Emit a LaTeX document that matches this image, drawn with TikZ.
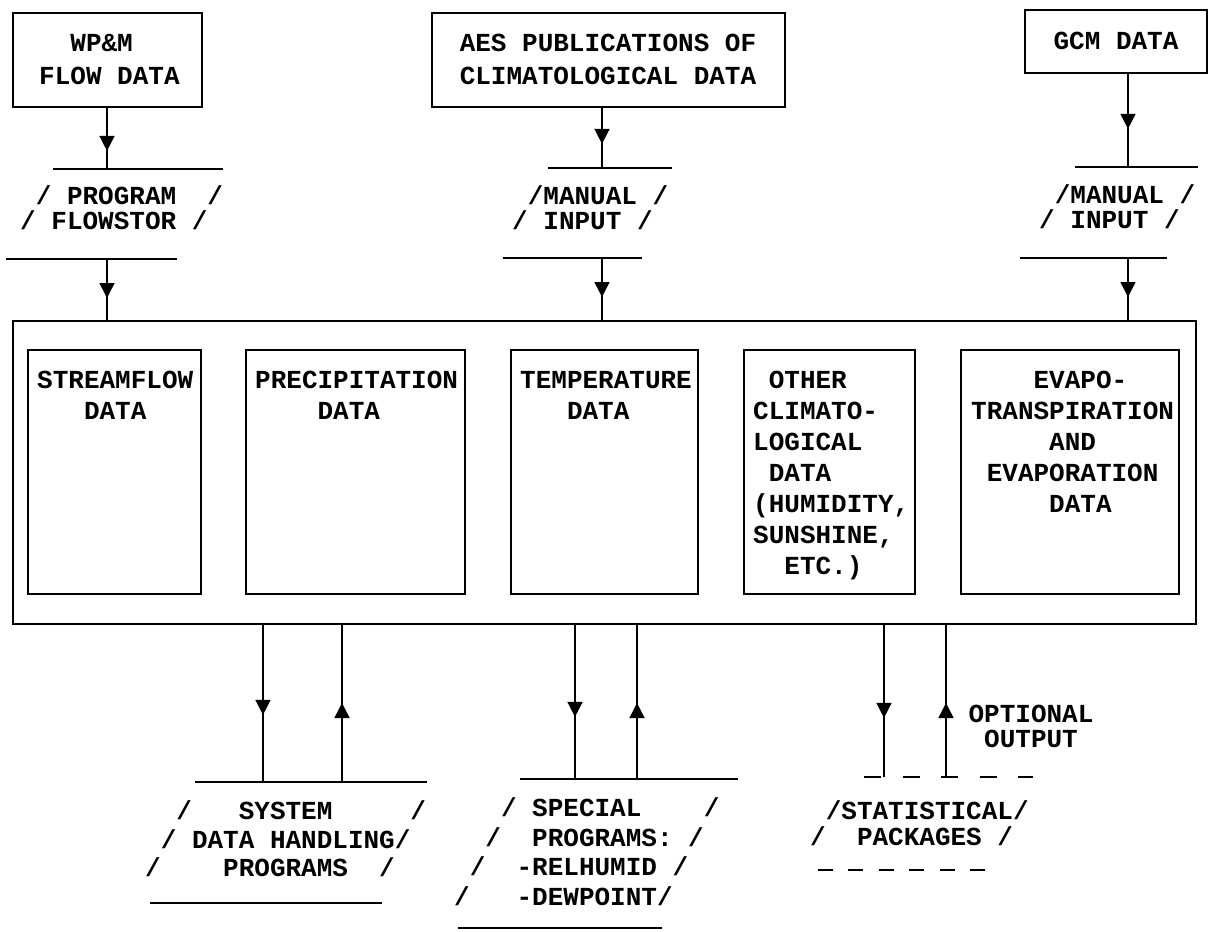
\documentclass[tikz,border=0pt]{standalone}
\usepackage{fontspec}
\newfontfamily\mono{Liberation Mono}
\usetikzlibrary{arrows.meta,decorations.markings}
\newcommand\sk[1]{\hspace*{#1\fontcharwd\font`M}}
\newcommand\rowsL[1]{\vtop{\lineskiplimit=-\maxdimen\lineskip=0pt\halign{##\hfil\cr#1\crcr}}}
\newcommand\rowsC[1]{\vtop{\lineskiplimit=-\maxdimen\lineskip=0pt\halign{\hfil##\hfil\cr#1\crcr}}}
\tikzset{
  box/.style={draw, line width=1.8pt, inner sep=0pt},
  conn/.style={line width=1.5pt},
  lbl/.style={inner sep=0pt, anchor=base west, font=\mono\bfseries\fontsize{26}{#1}\selectfont},
  lbl/.default=31,
  clbl/.style={inner sep=0pt, anchor=base, font=\mono\bfseries\fontsize{26}{#1}\selectfont},
  clbl/.default=31,
  midarrow/.style={decoration={markings, mark=at position #1 with {\arrow{Triangle[width=15pt,length=15pt]}}}, postaction={decorate}},
  dashA/.style={line width=1.5pt, dash pattern=on 17pt off 21.5pt},
  dashB/.style={line width=1.5pt, dash pattern=on 15pt off 15.4pt}
}
\begin{document}
\begin{tikzpicture}[x=1pt,y=-1pt]
\useasboundingbox (0,0) rectangle (1216,932);

% x positions of vertical connectors
\coordinate (xl) at (107,0);
\coordinate (xm) at (602,0);
\coordinate (xr) at (1128,0);
\coordinate (s1d) at (263,0);
\coordinate (s1u) at (342,0);
\coordinate (s2d) at (575,0);
\coordinate (s2u) at (637,0);
\coordinate (s3d) at (884,0);
\coordinate (s3u) at (946,0);

% ---------- top sources ----------
\node[box, minimum width=189, minimum height=94] (wpm) at (107.5,60) {};
\node[lbl=33] (wpmt) at (39,51.5) {\rowsL{\sk{2}WP\&M\cr FLOW DATA}};

\node[box, minimum width=353, minimum height=94] (aes) at (608.5,60) {};
\node[clbl=33] (aest) at (608,51.5) {\rowsC{AES PUBLICATIONS OF\cr CLIMATOLOGICAL DATA}};

\node[box, minimum width=182, minimum height=63] (gcm) at (1116,41.5) {};
\node[clbl] (gcmt) at (1116,49.5) {\rowsC{GCM DATA}};

% ---------- input procedures ----------
\coordinate (l1a) at (53,169);  \coordinate (l1b) at (223,169);
\coordinate (l2a) at (6,259);   \coordinate (l2b) at (177,259);
\draw[conn] (l1a) -- (l1b);
\draw[conn] (l2a) -- (l2b);
\node[lbl=25.5] (prog) at (20,204) {\rowsL{\sk{1}/ PROGRAM\sk{2}/\cr / FLOWSTOR /}};

\coordinate (m1a) at (548,168); \coordinate (m1b) at (672,168);
\coordinate (m2a) at (503,258); \coordinate (m2b) at (642,258);
\draw[conn] (m1a) -- (m1b);
\draw[conn] (m2a) -- (m2b);
\node[lbl=25.5] (man1) at (512,204) {\rowsL{\sk{1}/MANUAL /\cr / INPUT /}};

\coordinate (r1a) at (1075,167); \coordinate (r1b) at (1198,167);
\coordinate (r2a) at (1020,258); \coordinate (r2b) at (1167,258);
\draw[conn] (r1a) -- (r1b);
\draw[conn] (r2a) -- (r2b);
\node[lbl=25.5] (man2) at (1039,203) {\rowsL{\sk{1}/MANUAL /\cr / INPUT /}};

% ---------- data store ----------
\node[box, minimum width=1183, minimum height=303] (store) at (604.5,472.5) {};

\node[box, minimum width=173, minimum height=244] (sf) at (114.5,472) {};
\node[lbl] (sft) at (37,388.5) {\rowsL{STREAMFLOW\cr\sk{3}DATA}};
\node[box, minimum width=219, minimum height=244] (pr) at (355.5,472) {};
\node[lbl] (prt) at (255,388.5) {\rowsL{PRECIPITATION\cr\sk{4}DATA}};
\node[box, minimum width=187, minimum height=244] (te) at (604.5,472) {};
\node[lbl] (tet) at (520,388.5) {\rowsL{TEMPERATURE\cr\sk{3}DATA}};
\node[box, minimum width=171, minimum height=244] (ot) at (829.5,472) {};
\node[lbl] (ott) at (753,388.5) {\rowsL{\sk{1}OTHER\cr CLIMATO-\cr LOGICAL\cr\sk{1}DATA\cr (HUMIDITY,\cr SUNSHINE,\cr\sk{2}ETC.)}};
\node[box, minimum width=218, minimum height=244] (ev) at (1070,472) {};
\node[lbl] (evt) at (971,388.5) {\rowsL{\sk{4}EVAPO-\cr TRANSPIRATION\cr\sk{5}AND\cr\sk{1}EVAPORATION\cr\sk{5}DATA}};

% ---------- top connectors ----------
\draw[conn, midarrow=43pt] (wpm.south -| xl) -- (l1a -| xl);
\draw[conn, midarrow=39pt] (l2a -| xl) -- (store.north -| xl);
\draw[conn, midarrow=36pt] (aes.south -| xm) -- (m1a -| xm);
\draw[conn, midarrow=39pt] (m2a -| xm) -- (store.north -| xm);
\draw[conn, midarrow=55pt] (gcm.south -| xr) -- (r1a -| xr);
\draw[conn, midarrow=39pt] (r2a -| xr) -- (store.north -| xr);

% ---------- bottom programs ----------
\coordinate (sy1a) at (195,782); \coordinate (sy1b) at (427,782);
\coordinate (sy2a) at (150,903); \coordinate (sy2b) at (382,903);
\draw[conn] (sy1a) -- (sy1b);
\draw[conn] (sy2a) -- (sy2b);
\node[lbl=28.5] (syst) at (145,819.5) {\rowsL{\sk{2}/\sk{3}SYSTEM\sk{5}/\cr\sk{1}/ DATA HANDLING/\cr /\sk{4}PROGRAMS\sk{2}/}};
\draw[conn, midarrow=90pt] (store.south -| s1d) -- (sy1a -| s1d);
\draw[conn, midarrow=79pt] (sy1a -| s1u) -- (store.south -| s1u);

\coordinate (sp1a) at (520,779); \coordinate (sp1b) at (738,779);
\coordinate (sp2a) at (458,928); \coordinate (sp2b) at (662,928);
\draw[conn] (sp1a) -- (sp1b);
\draw[conn] (sp2a) -- (sp2b);
\node[lbl=29.7] (spec) at (454,816.5) {\rowsL{\sk{3}/ SPECIAL\sk{4}/\cr\sk{2}/\sk{2}PROGRAMS: /\cr\sk{1}/\sk{2}-RELHUMID /\cr /\sk{3}-DEWPOINT/}};
\draw[conn, midarrow=92pt] (store.south -| s2d) -- (sp1a -| s2d);
\draw[conn, midarrow=76pt] (sp1a -| s2u) -- (store.south -| s2u);

\coordinate (st1a) at (864,777); \coordinate (st1b) at (1033,777);
\coordinate (st2a) at (818,870); \coordinate (st2b) at (985,870);
\draw[dashA] (st1a) -- (st1b);
\draw[dashB] (st2a) -- (st2b);
\node[lbl=26] (stat) at (810,819.5) {\rowsL{\sk{1}/STATISTICAL/\cr /\sk{2}PACKAGES /}};
\draw[conn, midarrow=93pt] (store.south -| s3d) -- (st1a -| s3d);
\draw[conn, midarrow=74pt] (st1a -| s3u) -- (store.south -| s3u);
\node[clbl=25.5] (opt) at (1031,722) {\rowsC{OPTIONAL\cr OUTPUT}};
\end{tikzpicture}
\end{document}
